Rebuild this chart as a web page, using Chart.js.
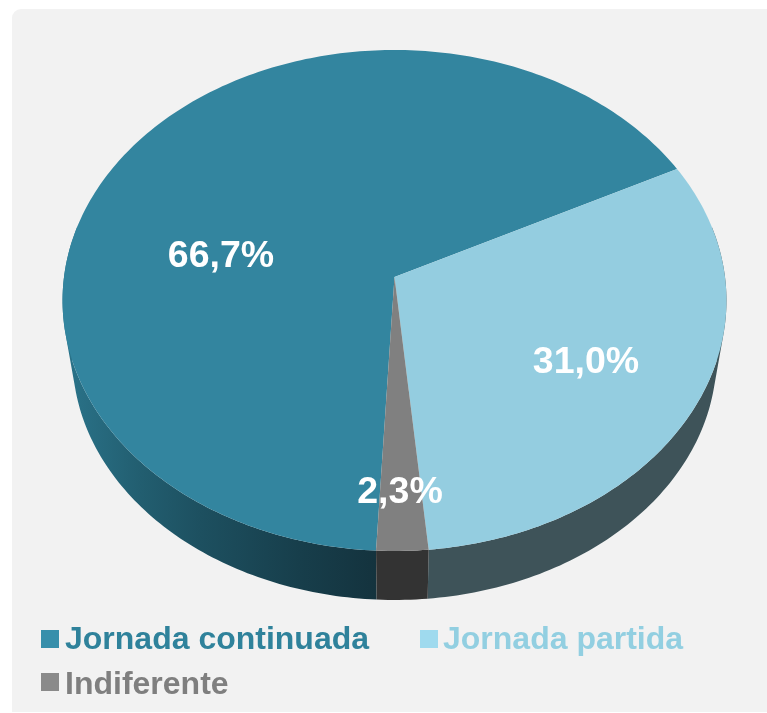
<!DOCTYPE html>
<html><head><meta charset="utf-8">
<script src="https://cdn.jsdelivr.net/npm/chart.js@4"></script>
<style>
html,body{margin:0;padding:0;background:#fff;width:767px;height:713px;overflow:hidden}
#panel{position:absolute;left:12px;top:9px;width:755px;height:703px;background:#f2f2f2;border-radius:9px 0 0 0}
#c{position:absolute;left:0;top:0}
</style></head><body>
<div id="panel"></div>
<canvas id="c" width="767" height="713"></canvas>
<script>
const categories = ['Jornada continuada', 'Jornada partida', 'Indiferente'];
const values = [66.7, 31.0, 2.3];
const valueLabels = ['66,7%', '31,0%', '2,3%'];
const topColors = ['#33859f', '#94cde0', '#808080'];
const legendTextColors = ['#2f829b', '#92cfe1', '#7f7f7f'];
const legendBoxColors = ['#378fab', '#9fdaee', '#8a8a8a'];
const wallColors = [null, '#3e5359', '#333333'];
const wallGradient = [[70,'#2a7288'],[140,'#225e70'],[200,'#1d5060'],[300,'#173e4b'],[376,'#14333e']];
const labelPos = [[221,267],[586,373],[400,503]];
const legendPos = [[41,65,630,649],[420,443,630,649],[41,65,673,694]];

// perspective view of the disc
const CX=394.5, CY=277, A=330.5, B=248.3, K=0.0938;
const WALL_S=0.97, WALL_VY=2183;
const proj=(a)=>{const u=Math.cos(a),v=Math.sin(a),w=1-K*v;return [CX+A*u/w,CY+B*v/w];};
const low=(p)=>[CX+WALL_S*(p[0]-CX),WALL_VY+WALL_S*(p[1]-WALL_VY)];

const perspective={
  id:'perspective',
  beforeDatasetsDraw(chart){
    const ctx=chart.ctx, arcs=chart.getDatasetMeta(0).data;
    const grad=ctx.createLinearGradient(wallGradient[0][0],0,wallGradient[wallGradient.length-1][0],0);
    const g0=wallGradient[0][0], g1=wallGradient[wallGradient.length-1][0];
    wallGradient.forEach(s=>grad.addColorStop((s[0]-g0)/(g1-g0),s[1]));
    ctx.save();
    arcs.forEach((arc,i)=>{
      const N=Math.max(4,Math.ceil((arc.endAngle-arc.startAngle)*60));
      ctx.beginPath();
      for(let n=0;n<N;n++){
        const a0=arc.startAngle+(arc.endAngle-arc.startAngle)*n/N;
        const a1=arc.startAngle+(arc.endAngle-arc.startAngle)*(n+1)/N;
        if(Math.sin(a0)<-0.2&&Math.sin(a1)<-0.2) continue;
        const p=proj(a0),q=proj(a1),r=low(q),s=low(p);
        const area=(q[0]-p[0])*(r[1]-p[1])-(q[1]-p[1])*(r[0]-p[0]);
        const pts=area>=0?[p,q,r,s]:[s,r,q,p];
        ctx.moveTo(pts[0][0],pts[0][1]);
        for(let k=1;k<4;k++)ctx.lineTo(pts[k][0],pts[k][1]);
        ctx.closePath();
      }
      ctx.fillStyle=wallColors[i]||grad;
      ctx.fill();
    });
    arcs.forEach((arc,i)=>{
      const N=Math.max(4,Math.ceil((arc.endAngle-arc.startAngle)*60));
      ctx.beginPath();
      ctx.moveTo(CX,CY);
      for(let n=0;n<=N;n++){
        const p=proj(arc.startAngle+(arc.endAngle-arc.startAngle)*n/N);
        ctx.lineTo(p[0],p[1]);
      }
      ctx.closePath();
      ctx.fillStyle=arc.options.backgroundColor;
      ctx.fill();
    });
    ctx.restore();
    return false;
  },
  afterDraw(chart){
    const ctx=chart.ctx;
    ctx.save();
    ctx.textAlign='center';ctx.textBaseline='alphabetic';
    ctx.font='bold 37.5px "Liberation Sans", Arial, sans-serif';
    ctx.fillStyle='#ffffff';
    valueLabels.forEach((t,i)=>ctx.fillText(t,labelPos[i][0],labelPos[i][1]));
    ctx.textAlign='left';
    ctx.font='bold 32px "Liberation Sans", Arial, sans-serif';
    chart.data.labels.forEach((t,i)=>{
      const p=legendPos[i];
      ctx.fillStyle=legendBoxColors[i];
      ctx.fillRect(p[0],p[2],18,18);
      ctx.fillStyle=legendTextColors[i];
      ctx.fillText(t,p[1],p[3]);
    });
    ctx.restore();
  }
};

new Chart(document.getElementById('c'),{
  type:'pie',
  data:{labels:categories,datasets:[{data:values,backgroundColor:topColors,borderWidth:0}]},
  options:{
    responsive:false,animation:false,rotation:182.9,
    plugins:{legend:{display:false},tooltip:{enabled:false}}
  },
  plugins:[perspective]
});
</script>
</body></html>
